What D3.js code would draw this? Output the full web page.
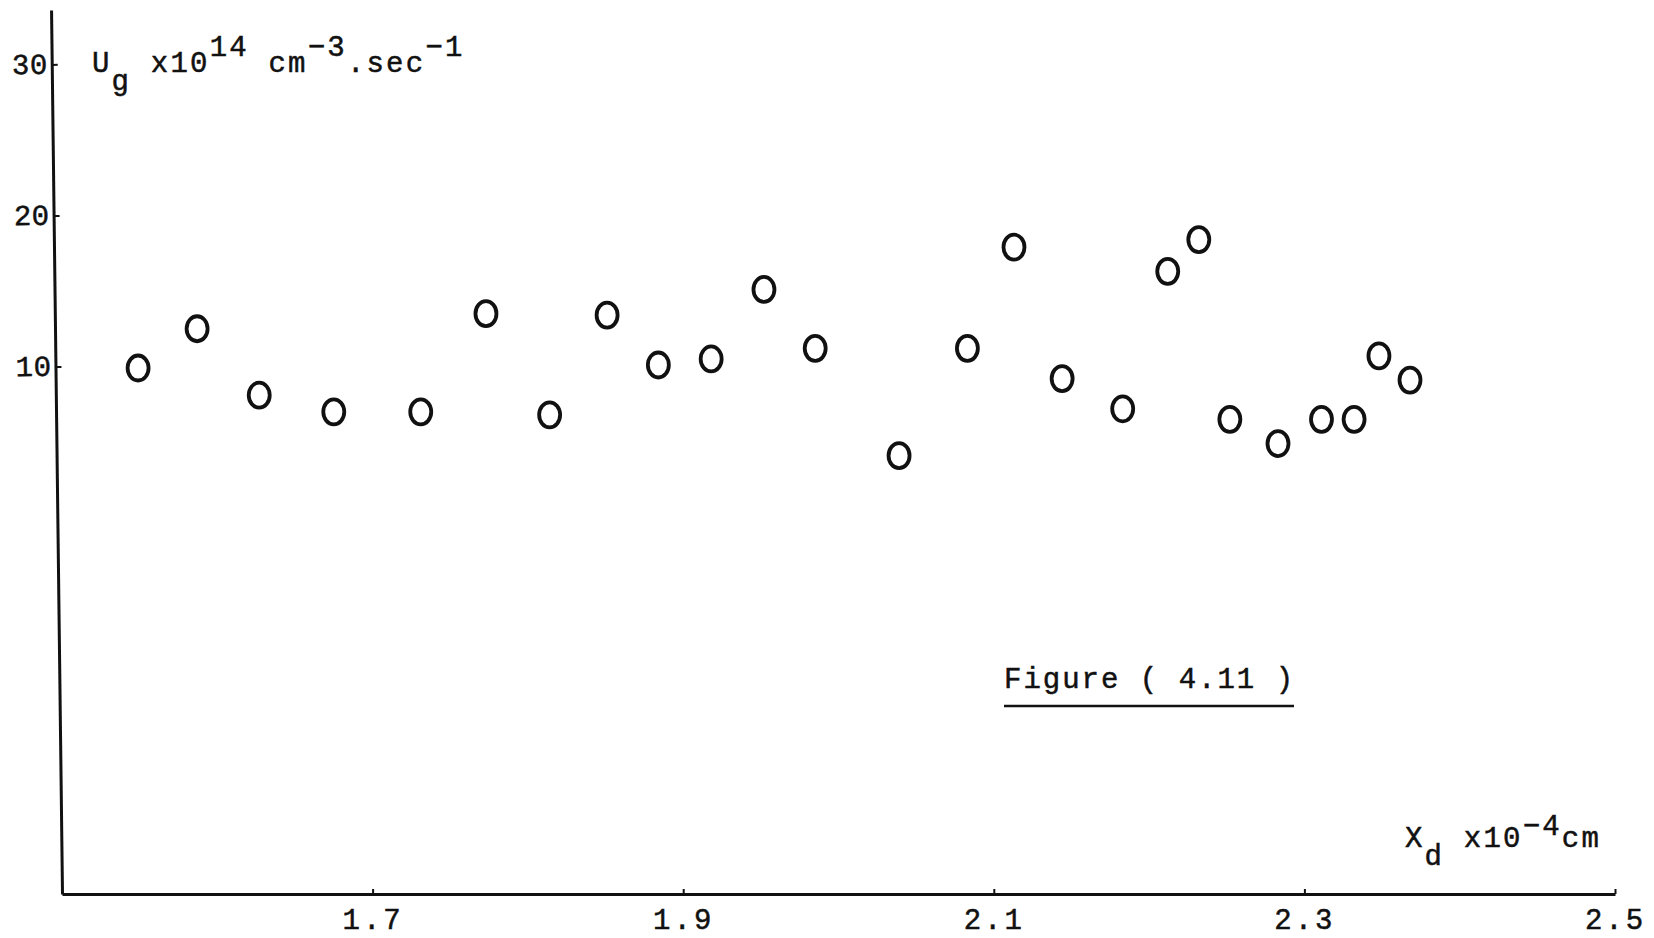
<!DOCTYPE html>
<html>
<head>
<meta charset="utf-8">
<script src="https://cdn.jsdelivr.net/npm/d3@7"></script>
<style>
  html, body { margin: 0; padding: 0; background: #fff; }
  svg { display: block; }
  .tw { font-family: "Liberation Mono", "DejaVu Sans Mono", monospace; font-size: 29px;
        fill: #111; stroke: #111; stroke-width: 0.5px; letter-spacing: 2.2px; }
</style>
</head>
<body>
<svg id="chart" width="1654" height="938"></svg>
<script>
// Depletion width X_d (x10^-4 cm) and generation rate U_g (x10^14 cm^-3 sec^-1)
const xd = [1.549, 1.587, 1.627, 1.675, 1.731, 1.773, 1.814, 1.851, 1.884, 1.918,
            1.952, 1.985, 2.039, 2.083, 2.113, 2.144, 2.183, 2.212, 2.232, 2.252,
            2.283, 2.311, 2.332, 2.348, 2.368];
const ug = [9.9, 12.5, 8.1, 7.0, 7.0, 13.5, 6.8, 13.4, 10.1, 10.5,
            15.1, 11.2, 4.1, 11.2, 17.9, 9.2, 7.2, 16.3, 18.4, 6.5,
            4.9, 6.5, 6.5, 10.7, 9.1];
const xTicks = [1.7, 1.9, 2.1, 2.3, 2.5];
const yTicks = [10, 20, 30];

const svg = d3.select("#chart");

const x = d3.scaleLinear().domain([1.5, 2.5]).range([62, 1615]);
const y = d3.scaleLinear().domain([-24.92, 33.6]).range([894, 10]);

// x axis with small upward ticks
const gx = svg.append("g")
  .attr("transform", `translate(0,${y.range()[0]})`)
  .call(d3.axisBottom(x).tickValues(xTicks).tickFormat(d3.format(".1f"))
        .tickSize(-5).tickSizeOuter(0).tickPadding(14));
gx.select(".domain").attr("stroke", "#111").attr("stroke-width", 3);
gx.selectAll(".tick line").attr("stroke", "#111").attr("stroke-width", 2);
gx.selectAll(".tick text").attr("class", "tw").attr("dy", "0.71em")
  .style("letter-spacing", "3px");

// y axis, hand-ruled so it leans slightly
const gy = svg.append("g")
  .attr("transform", `translate(${x.range()[0]},0) rotate(-0.71, 0, ${y.range()[0]})`)
  .call(d3.axisLeft(y).tickValues(yTicks).tickFormat(d3.format("d"))
        .tickSize(-6).tickSizeOuter(0).tickPadding(4));
gy.select(".domain").attr("stroke", "#111").attr("stroke-width", 3);
gy.selectAll(".tick line").attr("stroke", "#111").attr("stroke-width", 2);
gy.selectAll(".tick text").attr("class", "tw").attr("dy", "0.3em")
  .style("letter-spacing", "0.5px");
svg.selectAll(".tick text").attr("font-family", null).attr("font-size", null).attr("fill", null);

// data points drawn as open "O" marks
svg.append("g").selectAll("ellipse")
  .data(xd.map((v, i) => [v, ug[i]]))
  .join("ellipse")
  .attr("cx", d => x(d[0]))
  .attr("cy", d => y(d[1]))
  .attr("rx", 10.5)
  .attr("ry", 12.5)
  .attr("fill", "none")
  .attr("stroke", "#111")
  .attr("stroke-width", 3.8);

// builds a label from [text, vertical shift] pieces that follow one another
function label(x0, y0, parts) {
  const t = svg.append("text").attr("class", "tw").attr("x", x0).attr("y", y0);
  parts.forEach(([s, dy]) => t.append("tspan").attr("dy", dy).text(s));
  return t;
}

// y axis title: U_g x10^14 cm^-3.sec^-1
label(92, 72, [["U", 0], ["g", 18], [" x10", -18], ["14", -16], [" cm", 16],
               ["\u22123", -16], [".sec", 16], ["\u22121", -16]]);

// x axis title: X_d x10^-4 cm
label(1405, 847, [["X", 0], ["d", 18], [" x10", -18], ["\u22124", -12], ["cm", 12]]);

// figure caption, underlined
svg.append("text").attr("class", "tw").attr("x", 1004).attr("y", 688)
  .style("letter-spacing", "2px")
  .text("Figure ( 4.11 )");
svg.append("line")
  .attr("x1", 1004).attr("x2", 1294)
  .attr("y1", 706).attr("y2", 706)
  .attr("stroke", "#111").attr("stroke-width", 2.5);
</script>
</body>
</html>
